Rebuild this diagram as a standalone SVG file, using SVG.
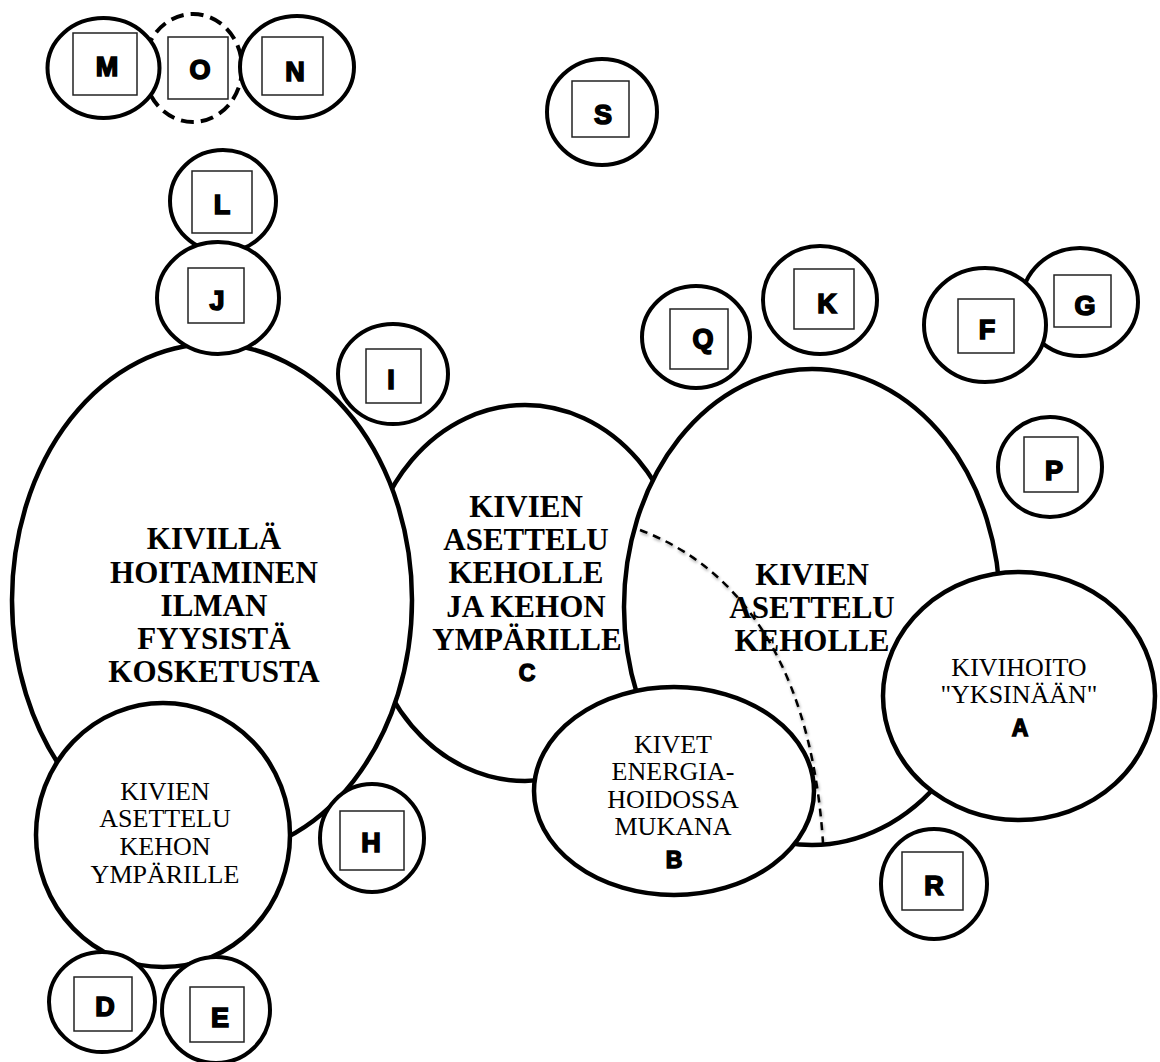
<svg xmlns="http://www.w3.org/2000/svg" width="1160" height="1062" viewBox="0 0 1160 1062">
<style>
.big{fill:#fff;stroke:#000;stroke-width:4.5}
.sm{fill:#fff;stroke:#000;stroke-width:4}
.dash{fill:#fff;stroke:#000;stroke-width:4;stroke-dasharray:13 7}
.box{fill:#fff;stroke:#222;stroke-width:1.5}
.let{font-family:"Liberation Sans",Arial,sans-serif;font-weight:bold;font-size:27px;text-anchor:middle;fill:#000;stroke:#000;stroke-width:1.6}
.lab{font-family:"Liberation Sans",Arial,sans-serif;font-weight:bold;font-size:23px;text-anchor:middle;fill:#000;stroke:#000;stroke-width:1.4}
.bt{font-family:"Liberation Serif","Times New Roman",serif;font-weight:bold;font-size:31px;text-anchor:middle;fill:#000}
.rt{font-family:"Liberation Serif","Times New Roman",serif;font-size:26px;text-anchor:middle;fill:#000}
</style>
<defs>
<filter id="sh" x="-10%" y="-10%" width="120%" height="120%">
<feDropShadow dx="1" dy="2" stdDeviation="1.5" flood-color="#000" flood-opacity="0.35"/>
</filter>
</defs>
<rect width="1160" height="1062" fill="#fff"/>

<g id="node-c">
<ellipse class="big" cx="525" cy="593" rx="160" ry="188"/>
<text class="bt" x="526" y="517">KIVIEN</text>
<text class="bt" x="526" y="550">ASETTELU</text>
<text class="bt" x="526" y="583">KEHOLLE</text>
<text class="bt" x="526" y="617">JA KEHON</text>
<text class="bt" x="527" y="650">YMPÄRILLE</text>
<text class="lab" x="527" y="681">C</text>
</g>
<g id="node-ilman">
<ellipse class="big" cx="212" cy="600" rx="200" ry="256"/>
<text class="bt" x="214" y="549">KIVILLÄ</text>
<text class="bt" x="214" y="583">HOITAMINEN</text>
<text class="bt" x="214" y="616">ILMAN</text>
<text class="bt" x="214" y="649">FYYSISTÄ</text>
<text class="bt" x="214" y="682">KOSKETUSTA</text>
</g>
<g id="node-keholle">
<ellipse class="big" cx="812" cy="607" rx="188" ry="238"/>
<text class="bt" x="812" y="585">KIVIEN</text>
<text class="bt" x="812" y="618">ASETTELU</text>
<text class="bt" x="812" y="651">KEHOLLE</text>
</g>
<g id="node-b">
<ellipse class="big" cx="674" cy="791" rx="140" ry="104"/>
<text class="rt" x="673" y="753">KIVET</text>
<text class="rt" x="673" y="780">ENERGIA-</text>
<text class="rt" x="673" y="808">HOIDOSSA</text>
<text class="rt" x="673" y="835">MUKANA</text>
<text class="lab" x="674" y="868">B</text>
</g>
<g id="node-a">
<ellipse class="big" cx="1019" cy="696" rx="136" ry="124"/>
<text class="rt" x="1019" y="676">KIVIHOITO</text>
<text class="rt" x="1019" y="703">"YKSINÄÄN"</text>
<text class="lab" x="1020" y="736">A</text>
</g>
<g id="node-kehon">
<ellipse class="big" cx="163" cy="835" rx="127" ry="132"/>
<text class="rt" x="165" y="800">KIVIEN</text>
<text class="rt" x="165" y="827">ASETTELU</text>
<text class="rt" x="165" y="855">KEHON</text>
<text class="rt" x="165" y="883">YMPÄRILLE</text>
</g>
<g id="node-D"><ellipse class="sm" cx="102" cy="1002" rx="53" ry="50"/><rect class="box" x="74" y="977" width="58" height="54"/><text class="let" x="105" y="1016">D</text></g>
<g id="node-E"><ellipse class="sm" cx="216" cy="1010" rx="54" ry="53"/><rect class="box" x="190" y="987" width="54" height="55"/><text class="let" x="220" y="1027">E</text></g>
<g id="node-H"><ellipse class="sm" cx="372" cy="838" rx="52" ry="54"/><rect class="box" x="340" y="811" width="64" height="59"/><text class="let" x="371" y="852">H</text></g>
<g id="node-R"><ellipse class="sm" cx="934" cy="884" rx="53" ry="55"/><rect class="box" x="902" y="852" width="61" height="58"/><text class="let" x="934" y="895">R</text></g>
<g id="node-I"><ellipse class="sm" cx="393" cy="374" rx="55" ry="50"/><rect class="box" x="366" y="349" width="55" height="54"/><text class="let" x="391" y="389">I</text></g>
<g id="node-Q"><ellipse class="sm" cx="696" cy="337" rx="54" ry="51"/><rect class="box" x="670" y="309" width="58" height="60"/><text class="let" x="703" y="348">Q</text></g>
<g id="node-K"><ellipse class="sm" cx="820" cy="300" rx="57" ry="54"/><rect class="box" x="794" y="269" width="60" height="60"/><text class="let" x="827" y="313">K</text></g>
<g id="node-G"><ellipse class="sm" cx="1080" cy="302" rx="58" ry="54"/><rect class="box" x="1054" y="275" width="57" height="52"/><text class="let" x="1085" y="315">G</text></g>
<g id="node-F"><ellipse class="sm" cx="985" cy="325" rx="61" ry="57"/><rect class="box" x="958" y="299" width="56" height="54"/><text class="let" x="987" y="339">F</text></g>
<g id="node-P"><ellipse class="sm" cx="1050" cy="467" rx="52" ry="50"/><rect class="box" x="1024" y="437" width="54" height="55"/><text class="let" x="1054" y="480">P</text></g>
<g id="node-L"><ellipse class="sm" cx="223" cy="201" rx="53" ry="51"/><rect class="box" x="192" y="171" width="60" height="62"/><text class="let" x="222" y="214">L</text></g>
<g id="node-J"><ellipse class="sm" cx="218" cy="298" rx="61" ry="56"/><rect class="box" x="188" y="268" width="56" height="55"/><text class="let" x="217" y="310">J</text></g>
<g id="node-O"><ellipse class="dash" cx="193" cy="68" rx="49" ry="54"/><rect class="box" x="168" y="37" width="60" height="62"/><text class="let" x="200" y="79">O</text></g>
<g id="node-M"><ellipse class="sm" cx="103.5" cy="68" rx="56" ry="50"/><rect class="box" x="73" y="33" width="64" height="62"/><text class="let" x="107" y="76">M</text></g>
<g id="node-N"><ellipse class="sm" cx="297" cy="67" rx="57" ry="51"/><rect class="box" x="262" y="37" width="61" height="58"/><text class="let" x="295" y="81">N</text></g>
<g id="node-S"><ellipse class="sm" cx="602" cy="112" rx="55" ry="53"/><rect class="box" x="572" y="81" width="57" height="56"/><text class="let" x="603" y="124">S</text></g>

<g id="connectors">
<path d="M640,530 C720,560 810,640 823,843" fill="none" stroke="#000" stroke-width="2.5" stroke-dasharray="8 6" filter="url(#sh)"/>
</g>
</svg>
